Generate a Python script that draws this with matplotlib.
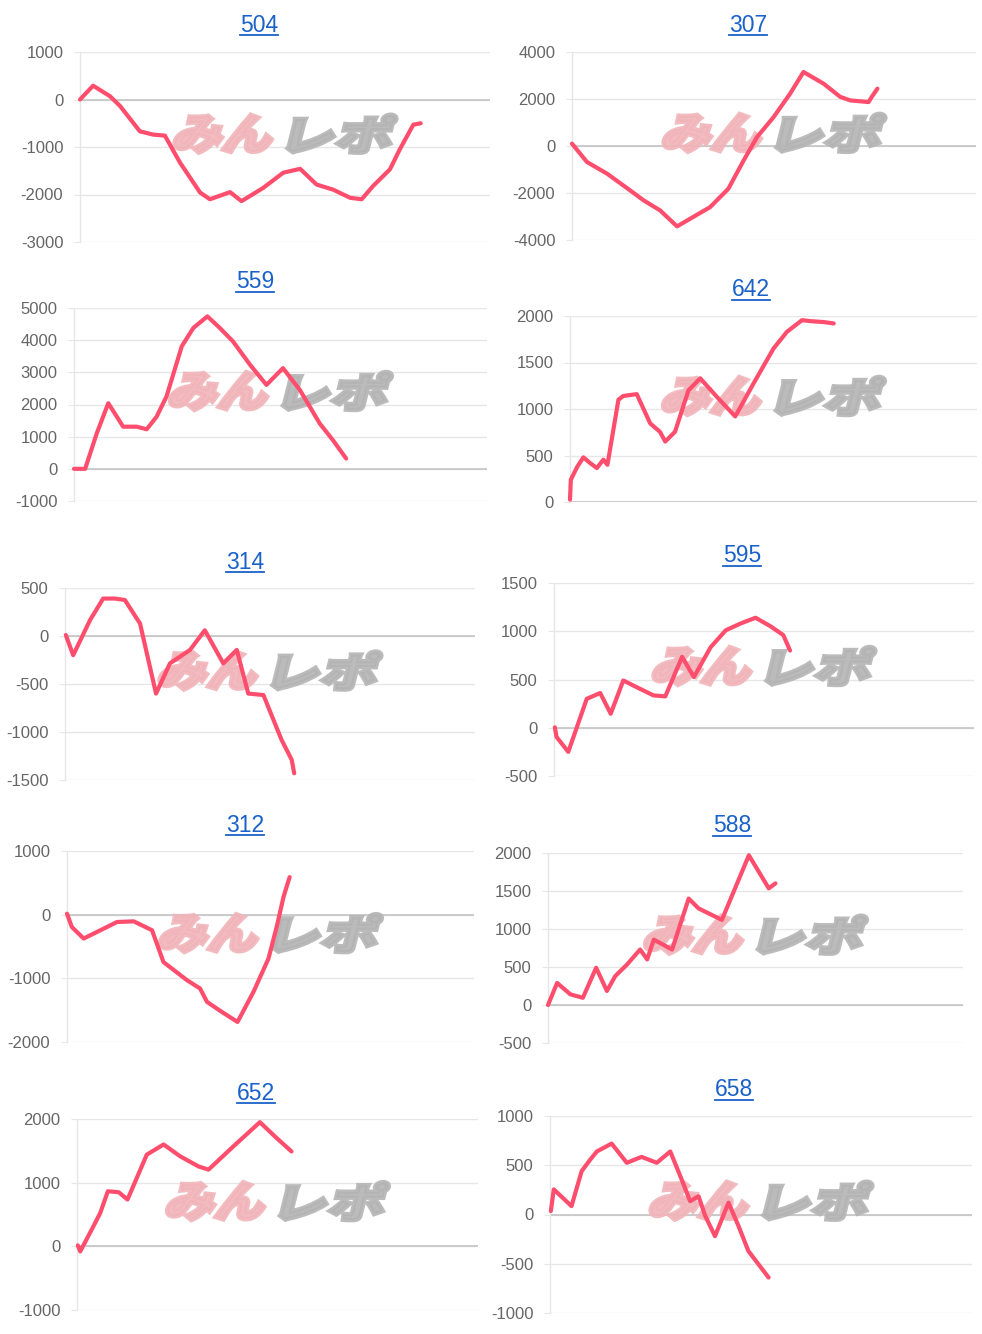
import matplotlib
matplotlib.use("Agg")
import matplotlib.pyplot as plt
import matplotlib.transforms as mtransforms
from matplotlib.textpath import TextPath
from matplotlib.patches import PathPatch
from matplotlib.font_manager import FontProperties
from matplotlib.lines import Line2D

plt.rcParams['font.family'] = ['Liberation Sans', 'DejaVu Sans']
plt.rcParams['axes.unicode_minus'] = False

# ---- data (x = position along the game axis in % of axis width, y = diff coins) ----
titles = ['504', '307', '559', '642', '314', '595', '312', '588', '652', '658']

x_504 = [0, 3.2, 7.3, 9.8, 14.6, 17.9, 20.7, 24.4, 29.3, 31.7, 36.6, 39.4, 44.7, 49.6,
         53.7, 57.7, 61.8, 65.9, 68.7, 71.5, 75.6, 78.0, 81.3, 83.1]
y_504 = [0, 290, 70, -140, -670, -740, -760, -1330, -1960, -2100, -1950, -2140, -1860,
         -1540, -1460, -1790, -1900, -2070, -2100, -1820, -1470, -1050, -530, -500]

x_307 = [0, 3.7, 8.7, 14.4, 17.7, 21.8, 26.0, 29.3, 34.2, 38.7, 42.5, 45.8, 49.9, 54.0,
         57.3, 62.3, 66.4, 68.9, 73.4, 74.2, 75.6]
y_307 = [100, -680, -1180, -1890, -2310, -2740, -3420, -3090, -2600, -1820, -610, 380,
         1230, 2230, 3150, 2650, 2090, 1940, 1870, 2090, 2440]

x_559 = [0, 2.7, 5.5, 8.3, 11.9, 15.2, 17.6, 20.0, 22.4, 26.1, 28.9, 32.3, 35.3, 38.5,
         42.6, 46.6, 50.6, 54.7, 59.5, 62.7, 65.9]
y_559 = [0, 0, 1100, 2040, 1310, 1310, 1230, 1620, 2250, 3810, 4380, 4740, 4380, 3960,
         3240, 2610, 3130, 2450, 1410, 890, 320]

x_642 = [0, 0.2, 1.8, 3.3, 4.9, 6.6, 8.2, 9.2, 11.9, 13.1, 16.4, 19.7, 22.1, 23.4, 25.8,
         29.1, 32.0, 36.1, 40.6, 45.1, 50.0, 53.3, 57.0, 59.0, 62.3, 64.8]
y_642 = [25, 240, 380, 480, 420, 365, 455, 400, 1100, 1140, 1160, 845, 755, 650, 755,
         1200, 1330, 1130, 920, 1275, 1650, 1830, 1955, 1945, 1935, 1920]

x_314 = [0.2, 2.0, 6.1, 9.3, 12.2, 14.6, 18.3, 22.2, 25.6, 30.5, 34.1, 38.6, 41.9, 44.7,
         48.4, 52.8, 55.3, 55.9]
y_314 = [10, -200, 165, 390, 390, 375, 130, -600, -285, -145, 60, -285, -145, -600,
         -615, -1080, -1290, -1430]

x_595 = [0.2, 0.6, 3.4, 7.8, 11.0, 13.5, 16.5, 19.7, 23.7, 26.5, 30.5, 33.3, 37.3, 40.9,
         44.4, 48.0, 51.6, 54.6, 56.2]
y_595 = [5, -95, -250, 300, 360, 145, 490, 420, 335, 325, 735, 525, 835, 1010, 1080,
         1140, 1050, 960, 800]

x_312 = [0, 1.2, 4.1, 8.2, 12.3, 16.4, 20.9, 23.7, 29.5, 32.7, 34.4, 38.1, 41.9, 45.8,
         49.5, 51.6, 53.2, 54.7]
y_312 = [15, -195, -375, -245, -115, -105, -245, -745, -1030, -1160, -1370, -1530,
         -1685, -1215, -690, -170, 280, 590]

x_588 = [0, 2.2, 5.4, 8.4, 11.6, 14.2, 16.2, 19.0, 22.2, 23.9, 25.5, 29.9, 33.9, 36.3,
         41.9, 48.4, 53.2, 54.8]
y_588 = [0, 290, 140, 95, 490, 185, 380, 530, 730, 600, 860, 730, 1400, 1270, 1120,
         1970, 1535, 1600]

x_652 = [0.2, 0.8, 4.1, 5.8, 7.7, 10.4, 12.6, 17.4, 21.6, 25.7, 30.3, 32.8, 39.0, 45.6,
         49.8, 53.5]
y_652 = [15, -80, 315, 525, 865, 850, 735, 1440, 1600, 1415, 1255, 1205, 1570, 1950,
         1700, 1490]

x_658 = [0.2, 0.9, 5.1, 7.5, 9.5, 11.1, 14.6, 18.2, 21.7, 25.3, 28.5, 31.2, 33.2, 35.2,
         36.8, 39.1, 42.3, 44.7, 47.0, 51.8]
y_658 = [35, 255, 85, 440, 555, 640, 720, 525, 585, 525, 640, 355, 135, 185, -15, -220,
         120, -120, -370, -640]

xs = [x_504, x_307, x_559, x_642, x_314, x_595, x_312, x_588, x_652, x_658]
ys = [y_504, y_307, y_559, y_642, y_314, y_595, y_312, y_588, y_652, y_658]

# y axis range and tick step per chart
y_ranges = [(-3000, 1000, 1000), (-4000, 4000, 2000), (-1000, 5000, 1000), (0, 2000, 500),
            (-1500, 500, 500), (-500, 1500, 500), (-2000, 1000, 1000), (-500, 2000, 500),
            (-1000, 2000, 1000), (-1000, 1000, 500)]

# ---- layout (pixels: left, top, right, bottom) ----
W, H = 982, 1334
boxes = [(80, 52, 490, 242), (572, 52, 976, 240),
         (74, 308, 487, 501), (570, 316, 977, 502),
         (65, 588, 475, 780), (554, 583, 974, 776),
         (67, 851, 474, 1042), (548, 853, 963, 1043),
         (77, 1119, 478, 1310), (550, 1116, 972, 1313)]
title_pos = [(259, 25), (748, 25), (255, 282), (751, 290), (245, 562),
             (742, 556), (245, 825), (732, 826), (256, 1093), (734, 1090)]

LINE = '#ff4d6d'
GRID = '#e6e6e6'
TICK = '#666666'
LINK = '#1a62c9'

fig = plt.figure(figsize=(W / 100, H / 100), dpi=100)
renderer = fig.canvas.get_renderer()
wm_font = FontProperties(family='Noto Sans CJK JP', weight='black')


def watermark(ax):
    # "みんレポ" logo, pink + gray, slanted, fattened with a stroke
    cx, cy = ax.transAxes.transform((0.5, 0.57))
    for txt, col, dx, w in [('みん', '#f0b4b9', -60, 108), ('レポ', '#b4b4b4', 57, 114)]:
        tp = TextPath((0, 0), txt, size=1, prop=wm_font)
        bb = tp.get_extents()
        tr = (mtransforms.Affine2D()
              .translate(-(bb.x0 + bb.x1) / 2, -(bb.y0 + bb.y1) / 2)
              .scale(w / bb.width / 1.12, 38 / bb.height)
              .skew_deg(14, 0)
              .translate(cx + dx, cy))
        ax.add_patch(PathPatch(tr.transform_path(tp), fc=col, ec=col, lw=3.2,
                               joinstyle='miter', alpha=0.9,
                               transform=mtransforms.IdentityTransform(), zorder=1.5))


for i in range(10):
    l, t, r, b = boxes[i]
    ax = fig.add_axes([l / W, 1 - b / H, (r - l) / W, (b - t) / H])
    lo, hi, step = y_ranges[i]
    ax.set_ylim(lo, hi)
    ax.set_xlim(0, 100)
    ax.set_yticks(range(lo, hi + 1, step))
    ax.set_xticks([])
    for s in ['top', 'right', 'bottom']:
        ax.spines[s].set_visible(False)
    ax.spines['left'].set_color(GRID)
    ax.spines['left'].set_linewidth(1.0)
    ax.grid(axis='y', color=GRID, lw=1.0, zorder=0)
    ax.axhline(0, color='#c4c4c4', lw=1.2, zorder=1)
    ax.tick_params(axis='y', length=4, color=GRID, pad=8, labelsize=12, labelcolor=TICK)
    ax.set_axisbelow(True)

    watermark(ax)
    ax.plot(xs[i], ys[i], color=LINE, lw=3.0, solid_joinstyle='round',
            solid_capstyle='round', zorder=3, clip_on=False)

    tx, ty = title_pos[i]
    txt = fig.text(tx / W, 1 - ty / H, titles[i], ha='center', va='center',
                   fontsize=16.5, color=LINK)
    bb = txt.get_window_extent(renderer)
    fig.add_artist(Line2D([bb.x0, bb.x1], [bb.y0 + 1.5, bb.y0 + 1.5], color=LINK, lw=1.3,
                          transform=mtransforms.IdentityTransform()))

fig.savefig('out.png', dpi=100)
